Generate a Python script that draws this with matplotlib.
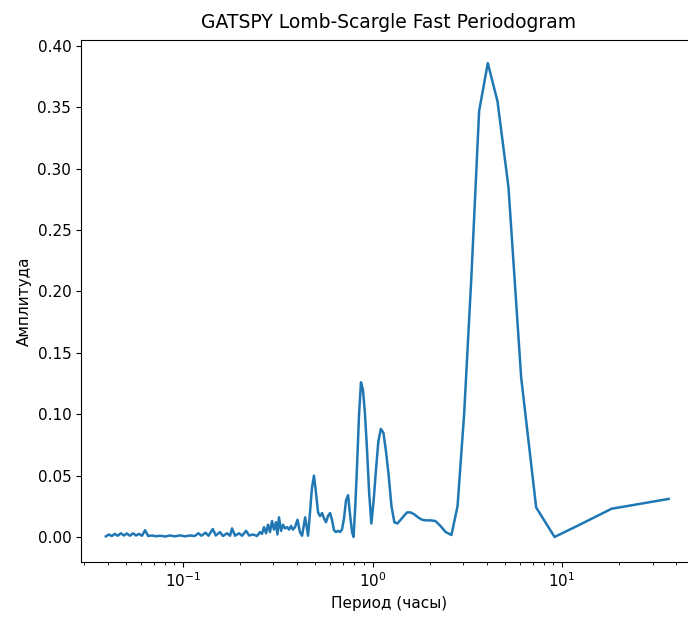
import matplotlib
matplotlib.use("Agg")
import matplotlib.pyplot as plt

# период (часы) и амплитуда
periods = [
    0.0392, 0.0406, 0.0421, 0.0437, 0.0453, 0.0470, 0.0488, 0.0506, 0.0525, 0.0545,
    0.0565, 0.0586, 0.0608, 0.0631, 0.0655, 0.0687, 0.0721, 0.0756, 0.0806, 0.0853,
    0.0909, 0.0964, 0.1023, 0.1086, 0.1153, 0.1206, 0.1252, 0.1314, 0.1364, 0.1435,
    0.1490, 0.1566, 0.1626, 0.1707, 0.1771, 0.1814, 0.1882, 0.1976, 0.2049, 0.2152,
    0.2233, 0.2344, 0.2459, 0.2549, 0.2610, 0.2676, 0.2742, 0.2810, 0.2877, 0.2950,
    0.3020, 0.3096, 0.3150, 0.3210, 0.3290, 0.3370, 0.3450, 0.3540, 0.3626, 0.3715,
    0.3800, 0.3900, 0.4020, 0.4140, 0.4250, 0.4410, 0.4570, 0.4680, 0.4790, 0.4910,
    0.5030, 0.5160, 0.5280, 0.5420, 0.5550, 0.5680, 0.5820, 0.5970, 0.6110, 0.6260,
    0.6420, 0.6580, 0.6740, 0.6900, 0.7070, 0.7250, 0.7430, 0.7610, 0.7800, 0.7940,
    0.8110, 0.8295, 0.8490, 0.8690, 0.8900, 0.9125, 0.9360, 0.9605, 0.9860, 1.014,
    1.043, 1.0735, 1.106, 1.1406, 1.177, 1.2167, 1.2586, 1.3036, 1.352, 1.404,
    1.460, 1.521, 1.587, 1.659, 1.738, 1.825, 1.921, 2.028, 2.147, 2.281,
    2.433, 2.607, 2.808, 3.042, 3.318, 3.650, 4.056, 4.5625, 5.214, 6.083,
    7.300, 9.125, 12.17, 18.25, 36.5,
]
amplitudes = [
    0.0005, 0.0020, 0.0008, 0.0025, 0.0010, 0.0030, 0.0012, 0.0028, 0.0010, 0.0030,
    0.0012, 0.0025, 0.0010, 0.0055, 0.0008, 0.0012, 0.0006, 0.0010, 0.0004, 0.0012,
    0.0005, 0.0013, 0.0005, 0.0012, 0.0008, 0.0030, 0.0010, 0.0035, 0.0010, 0.0065,
    0.0012, 0.0040, 0.0008, 0.0030, 0.0010, 0.0070, 0.0010, 0.0030, 0.0010, 0.0050,
    0.0012, 0.0020, 0.0008, 0.0040, 0.0025, 0.0080, 0.0030, 0.0100, 0.0040, 0.0130,
    0.0060, 0.0120, 0.0020, 0.0160, 0.0050, 0.0100, 0.0070, 0.0080, 0.0060, 0.0090,
    0.0060, 0.0080, 0.0140, 0.0040, 0.0010, 0.0160, 0.0010, 0.0200, 0.0400, 0.0500,
    0.0360, 0.0200, 0.0170, 0.0195, 0.0150, 0.0120, 0.0170, 0.0195, 0.0140, 0.0055,
    0.0040, 0.0050, 0.0040, 0.0060, 0.0150, 0.0300, 0.0340, 0.0180, 0.0040, 0.0000,
    0.0250, 0.0600, 0.1000, 0.1260, 0.1200, 0.1000, 0.0700, 0.0350, 0.0110, 0.0300,
    0.0550, 0.0780, 0.0880, 0.0850, 0.0700, 0.0500, 0.0250, 0.0120, 0.0110, 0.0138,
    0.0170, 0.0200, 0.0200, 0.0185, 0.0160, 0.0140, 0.0135, 0.0135, 0.0130, 0.0090,
    0.0040, 0.0016, 0.0250, 0.1000, 0.2100, 0.3470, 0.3860, 0.3550, 0.2850, 0.1300,
    0.0240, 0.0000, 0.0094, 0.0230, 0.0310,
]

fig = plt.figure(figsize=(6.88, 6.17), dpi=100)
# правая граница осей уходит за край картинки, как в оригинале
ax = fig.add_axes([81 / 688, 55 / 617, 616 / 688, 522 / 617])

ax.plot(periods, amplitudes, color='#1f77b4', linewidth=1.8)
ax.set_xscale('log')
ax.set_xlim(0.02897, 51.5)
ax.set_ylim(-0.0204, 0.4049)
ax.set_yticks([0.0, 0.05, 0.10, 0.15, 0.20, 0.25, 0.30, 0.35, 0.40])
ax.spines['right'].set_visible(False)

ax.set_title('GATSPY Lomb-Scargle Fast Periodogram', fontsize=13.5, pad=9)
ax.set_xlabel('Период (часы)', fontsize=11)
ax.set_ylabel('Амплитуда', fontsize=11)
ax.tick_params(labelsize=11)

fig.savefig('out.png', dpi=100)
